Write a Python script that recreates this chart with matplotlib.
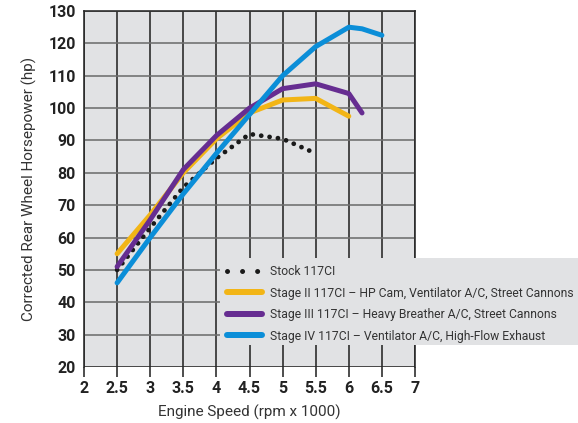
import matplotlib
matplotlib.use("Agg")
import matplotlib.pyplot as plt
from matplotlib import font_manager
from matplotlib.lines import Line2D
from matplotlib.patches import Rectangle

# engine speed (x1000 rpm) and horsepower for each build
stock_rpm = [2.5, 3.0, 3.5, 4.0, 4.5, 5.0, 5.5]
stock_hp = [50, 63, 75.5, 84.5, 92, 90.5, 86]

stage2_rpm = [2.5, 3.0, 3.5, 4.0, 4.5, 5.0, 5.5, 6.0]
stage2_hp = [55, 67, 80, 90.5, 98.5, 102.5, 103, 97.5]

stage3_rpm = [2.5, 3.0, 3.5, 4.0, 4.5, 5.0, 5.5, 6.0, 6.2]
stage3_hp = [51, 65.5, 81, 91.5, 100, 106, 107.5, 104.5, 98.5]

stage4_rpm = [2.5, 3.0, 3.5, 4.0, 4.5, 5.0, 5.5, 6.0, 6.2, 6.5]
stage4_hp = [46, 60, 73.5, 86, 98, 110, 119, 125, 124.5, 122.5]

labels = ["Stock 117CI",
          "Stage II 117CI \u2013 HP Cam, Ventilator A/C, Street Cannons",
          "Stage III 117CI \u2013 Heavy Breather A/C, Street Cannons",
          "Stage IV 117CI \u2013 Ventilator A/C, High-Flow Exhaust"]

x_ticks = [2, 2.5, 3, 3.5, 4, 4.5, 5, 5.5, 6, 6.5, 7]
y_ticks = [20, 30, 40, 50, 60, 70, 80, 90, 100, 110, 120, 130]

# colours
c_yellow = "#f2b516"
c_purple = "#662d91"
c_blue = "#0b8ed8"
c_bg = "#e1e2e4"

# pick fonts that exist
have = set(f.name for f in font_manager.fontManager.ttflist)
main_font = "Roboto" if "Roboto" in have else "DejaVu Sans"
plt.rcParams['font.family'] = [main_font, "DejaVu Sans"]

fig = plt.figure(figsize=(5.78, 4.23), dpi=100)
ax = fig.add_axes([84/578, 1 - 367/423, 331/578, 356/423])
ax.set_facecolor(c_bg)

px = 72 / 100  # one pixel in points

# grid
for xv in x_ticks:
    ax.axvline(xv, color="#262626", lw=1.6*px, zorder=1)
for yv in y_ticks:
    ax.axhline(yv, color="#6e6e6e" if yv > 20 else "#262626", lw=1.6*px, zorder=1)

lw = 5 * px
ax.plot(stock_rpm, stock_hp, color="#1a1a1a", lw=4.8*px,
        linestyle=(0, (0.01, 1.75)), dash_capstyle="round", zorder=3)
ax.plot(stage2_rpm, stage2_hp, color=c_yellow, lw=lw, solid_capstyle="round",
        solid_joinstyle="round", zorder=4)
ax.plot(stage3_rpm, stage3_hp, color=c_purple, lw=lw, solid_capstyle="round",
        solid_joinstyle="round", zorder=5)
ax.plot(stage4_rpm, stage4_hp, color=c_blue, lw=lw, solid_capstyle="round",
        solid_joinstyle="round", zorder=6)

ax.set_xlim(2, 7)
ax.set_ylim(20, 130)
ax.set_xticks(x_ticks)
ax.set_xticklabels([("%g" % v) for v in x_ticks], fontweight="bold", fontsize=11.5,
                   color="#222222")
ax.set_yticks(y_ticks)
ax.set_yticklabels([str(v) for v in y_ticks], fontweight="bold", fontsize=11.5,
                   color="#222222")
ax.tick_params(axis="x", length=10*px, width=1.6*px, color="#262626", pad=3)
ax.tick_params(axis="y", length=0, pad=6)
ax.spines["bottom"].set_visible(False)
for s in ["left", "top", "right"]:
    ax.spines[s].set_color("#262626")
    ax.spines[s].set_linewidth(1.6*px)

ax.set_xlabel("Engine Speed (rpm x 1000)", fontsize=11, color="#333333", labelpad=6)
ax.set_ylabel("Corrected Rear Wheel Horsepower (hp)", fontsize=11, color="#333333", labelpad=8)

# grey legend panel runs out to the right edge of the image
panel = Rectangle((220/578, 1 - 345/423), 1 - 220/578, 87/423, transform=fig.transFigure,
                  facecolor=c_bg, edgecolor="none", zorder=9, clip_on=False)
ax.add_patch(panel)

# legend with proxy handles (stock shows three dots)
handles = [
    Line2D([], [], color="#1a1a1a", lw=5*px, linestyle=(0, (0.01, 3.0)), dash_capstyle="round"),
    Line2D([], [], color=c_yellow, lw=6*px, solid_capstyle="round"),
    Line2D([], [], color=c_purple, lw=6*px, solid_capstyle="round"),
    Line2D([], [], color=c_blue, lw=6*px, solid_capstyle="round"),
]
leg = ax.legend(handles, labels, loc="upper left",
                bbox_to_anchor=(220/578, 1 - 258/423), bbox_transform=fig.transFigure,
                prop={"size": 8.7}, frameon=False,
                borderpad=0.6, borderaxespad=0, labelspacing=0.7,
                handlelength=2.9, handletextpad=0.6)
leg.set_zorder(10)
for t in leg.get_texts():
    t.set_color("#333333")

fig.savefig("out.png", dpi=100)
